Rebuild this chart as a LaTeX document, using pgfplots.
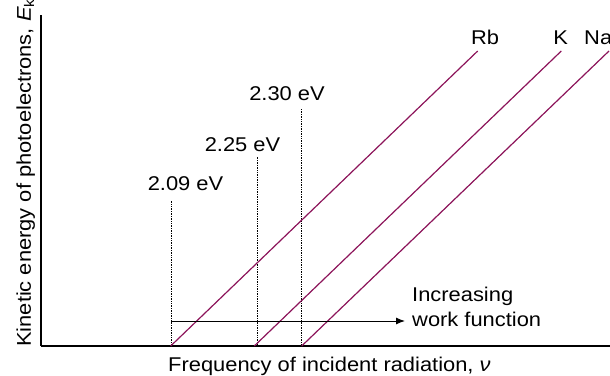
\documentclass[border=0pt]{standalone}
\usepackage{pgfplots}
\pgfplotsset{compat=1.18}
\usetikzlibrary{arrows.meta}
\usepackage{fontspec}
\setmainfont{Liberation Sans}[FakeStretch=1.1]
\definecolor{wline}{RGB}{140,20,90}
\newcommand{\lf}{\fontsize{19.9}{23}\selectfont}
\begin{document}
\begin{tikzpicture}
\begin{axis}[
  x=1pt, y=1pt,
  xmin=41, xmax=610, ymin=0, ymax=331,
  axis x line=bottom, axis y line=left,
  axis line style={-, line width=1.2pt, black},
  xtick=\empty, ytick=\empty,
  clip=false,
]
% work-function threshold markers
\addplot[black, densely dotted, line width=0.7pt] coordinates {(171,0) (171,146)};
\addplot[black, densely dotted, line width=0.7pt] coordinates {(257,0) (257,189)};
\addplot[black, densely dotted, line width=0.7pt] coordinates {(301,0) (301,237)};
% metals
\addplot[wline, line width=1.2pt] coordinates {(170.7,0) (477.7,295)};
\addplot[wline, line width=1.2pt] coordinates {(254.3,0) (561.3,295)};
\addplot[wline, line width=1.2pt] coordinates {(301.7,0) (609,295)};
% arrow
\addplot[black, line width=1pt, -{Latex[length=9pt,width=7pt]}] coordinates {(171,25) (405,25)};
% labels
\node[font=\lf, anchor=base] at (axis cs:185.5,155) {2.09 eV};
\node[font=\lf, anchor=base] at (axis cs:242.5,194) {2.25 eV};
\node[font=\lf, anchor=base] at (axis cs:287,245) {2.30 eV};
\node[font=\lf, anchor=base] at (axis cs:485,301) {Rb};
\node[font=\lf, anchor=base] at (axis cs:560.7,301) {K};
\node[font=\lf, anchor=base west, inner sep=0pt] at (axis cs:584,301) {Na};
\node[font=\lf, anchor=base west, inner sep=0pt] at (axis cs:412,45) {Increasing};
\node[font=\lf, anchor=base west, inner sep=0pt] at (axis cs:412,20) {work function};
\node[font=\lf, anchor=base west, inner sep=0pt] at (axis cs:168,-25.5) {Frequency of incident radiation, \textit{ν}};
\node[font=\lf, anchor=base west, inner sep=0pt, rotate=90] at (axis cs:31,-1) {Kinetic energy of photoelectrons, \textit{E}\textsubscript{k}};
\coordinate (BL) at (axis cs:0,-29);
\coordinate (TR) at (axis cs:610,346);
\end{axis}
\pgfresetboundingbox
\path[use as bounding box] (BL) rectangle (TR);
\end{tikzpicture}
\end{document}
